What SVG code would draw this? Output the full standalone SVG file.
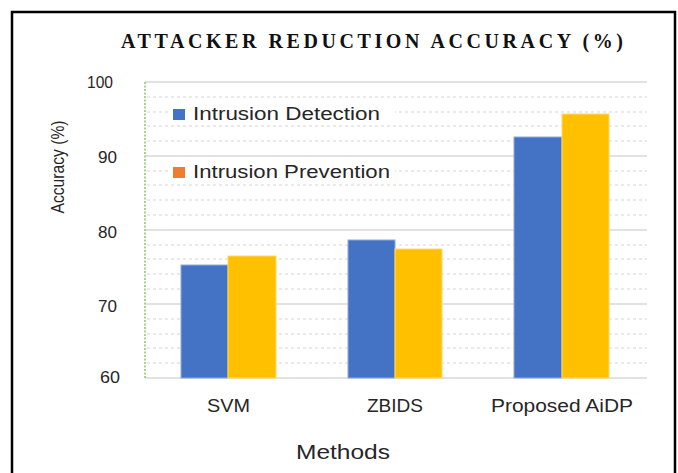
<svg xmlns="http://www.w3.org/2000/svg" width="678" height="473" viewBox="0 0 678 473">
<style>
.major{stroke:#D9D9D9;stroke-width:1.5;fill:none}
.minor{stroke:#E3E3E3;stroke-width:1.5;stroke-dasharray:3 3;fill:none}
.lbl{font-family:"Liberation Sans","Open Sans",sans-serif;fill:#262626}
.blue{fill:#4472C4;stroke:#8FAADC;stroke-width:1}
.gold{fill:#FFC000;stroke:#FFD966;stroke-width:1}
</style>
<rect width="678" height="473" fill="#FFFFFF"/>
<path d="M12 480 V12 H675 V480" fill="none" stroke="#000" stroke-width="2.5"/>
<text x="372" y="48" text-anchor="middle" font-family="Liberation Serif,serif" font-weight="bold" font-size="20" textLength="502" lengthAdjust="spacing" fill="#111">ATTACKER REDUCTION ACCURACY (%)</text>
<g id="grid">
<path class="minor" d="M147 97H647M147 112H647M147 126H647M147 141H647M147 171H647M147 185H647M147 200H647M147 215H647M147 245H647M147 259H647M147 274H647M147 289H647M147 319H647M147 334H647M147 348H647M147 363H647"/>
<path class="major" d="M145 82H647M145 156H647M145 230H647M145 304H647M145 378H647"/>
<line x1="145" y1="82" x2="145" y2="378" stroke="#A9D18E" stroke-width="2" stroke-dasharray="2 1.5"/>
</g>
<g id="yticks" class="lbl" font-size="17">
<text x="87" y="88" textLength="26" lengthAdjust="spacingAndGlyphs">100</text>
<text x="98" y="163" textLength="19" lengthAdjust="spacingAndGlyphs">90</text>
<text x="98" y="238" textLength="19" lengthAdjust="spacingAndGlyphs">80</text>
<text x="98" y="312" textLength="19" lengthAdjust="spacingAndGlyphs">70</text>
<text x="100" y="383" textLength="20" lengthAdjust="spacingAndGlyphs">60</text>
</g>
<text class="lbl" font-size="19" transform="translate(64,167) rotate(-90)" text-anchor="middle" textLength="93" lengthAdjust="spacingAndGlyphs">Accuracy (%)</text>
<g id="bars">
<rect class="blue" x="181" y="265" width="47" height="113"/>
<rect class="gold" x="228" y="256" width="48" height="122"/>
<rect class="blue" x="348" y="240" width="47" height="138"/>
<rect class="gold" x="395" y="249" width="47" height="129"/>
<rect class="blue" x="514" y="137" width="48" height="241"/>
<rect class="gold" x="562" y="114" width="47" height="264"/>
</g>
<g id="legend">
<rect x="170" y="104" width="225" height="19" fill="#FFF"/>
<rect x="170" y="162" width="225" height="19" fill="#FFF"/>
<rect x="173" y="109" width="12" height="11" fill="#4472C4"/>
<rect x="173" y="167" width="12" height="11" fill="#ED7D31"/>
<text class="lbl" x="193" y="120" font-size="18" textLength="187" lengthAdjust="spacingAndGlyphs">Intrusion Detection</text>
<text class="lbl" x="193" y="178" font-size="18" textLength="197" lengthAdjust="spacingAndGlyphs">Intrusion Prevention</text>
</g>
<g id="xlabels" class="lbl" font-size="18">
<text x="207" y="412" textLength="43" lengthAdjust="spacingAndGlyphs">SVM</text>
<text x="367" y="412" textLength="56" lengthAdjust="spacingAndGlyphs">ZBIDS</text>
<text x="491" y="412" textLength="142" lengthAdjust="spacingAndGlyphs">Proposed AiDP</text>
</g>
<text class="lbl" x="296" y="459" font-size="20" textLength="94" lengthAdjust="spacingAndGlyphs">Methods</text>
</svg>
